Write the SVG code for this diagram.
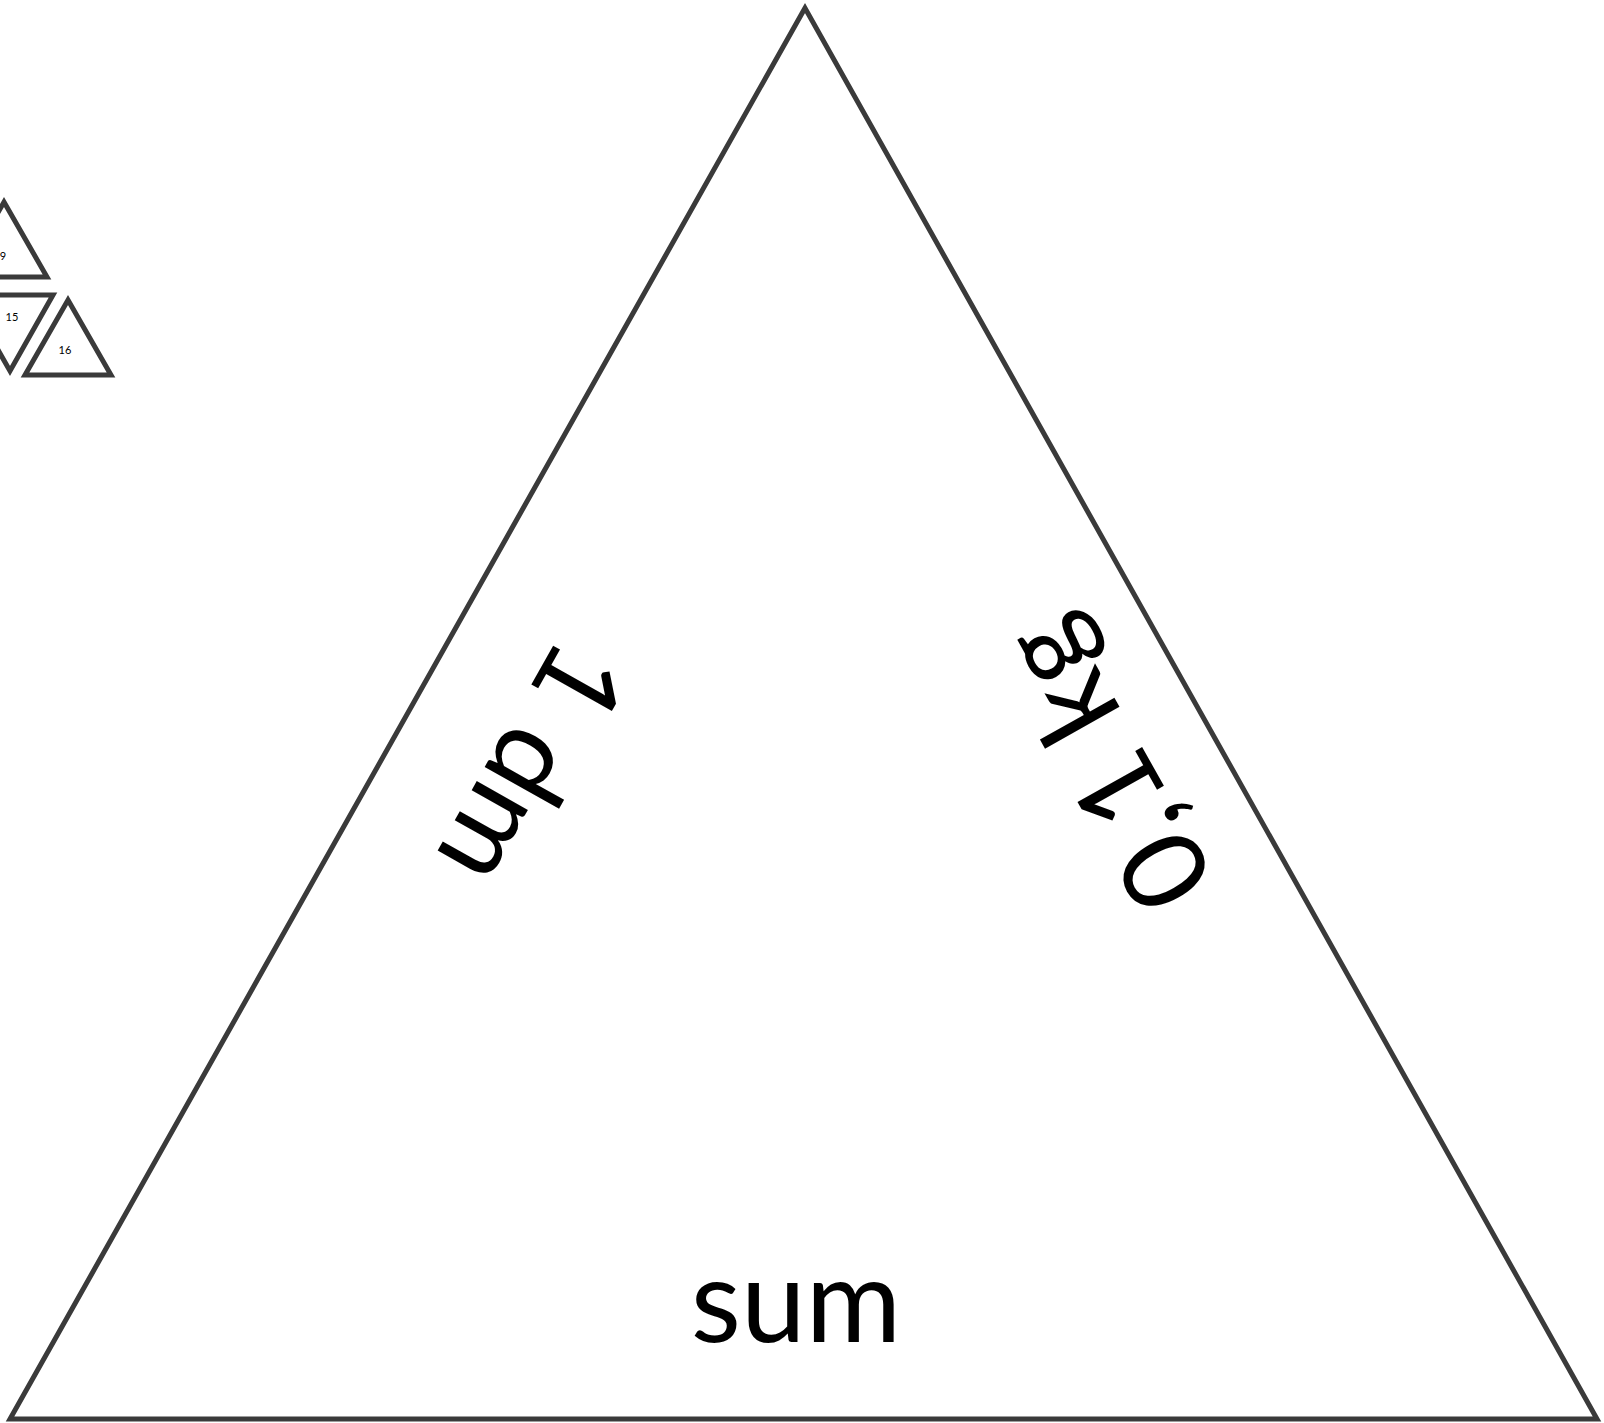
<svg xmlns="http://www.w3.org/2000/svg" width="1604" height="1423" viewBox="0 0 1604 1423">
<style>
.tri{fill:#ffffff;stroke:#3a3a3a;stroke-width:5;stroke-linejoin:miter}
.big{font-family:Lato,"Open Sans","Liberation Sans",sans-serif;font-size:116px;fill:#000}
.small{font-family:Lato,"Open Sans","Liberation Sans",sans-serif;font-size:11px;fill:#000;text-anchor:middle}
</style>
<rect width="1604" height="1423" fill="#ffffff"/>
<g id="main">
<polygon class="tri" points="805,8 10,1419 1597,1419"/>
<text class="big" text-anchor="middle" x="796" y="1342">sum</text>
<text class="big" text-anchor="middle" transform="translate(497,745) rotate(119.38)">1 dm</text>
<text class="big" text-anchor="middle" transform="translate(1141,745) rotate(-119.29)">0,1 kg</text>
</g>
<g id="t9">
<polygon class="tri" points="4,202 47,277 -39,277"/>
<text class="small" x="3" y="260">9</text>
</g>
<g id="t15">
<polygon class="tri" points="-33,295 53,295 10,371"/>
<text class="small" x="12" y="321">15</text>
</g>
<g id="t16">
<polygon class="tri" points="68,300 111,375 25,375"/>
<text class="small" x="65" y="354">16</text>
</g>
<g id="connectors"></g>
</svg>
